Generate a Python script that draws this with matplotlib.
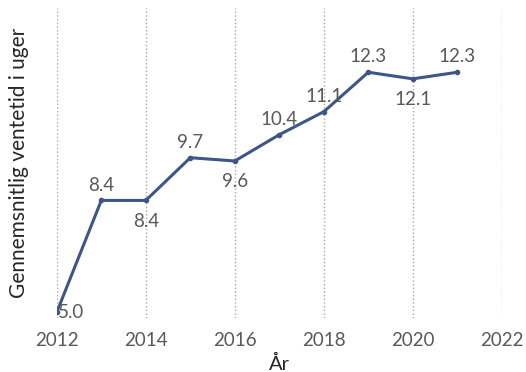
import matplotlib
matplotlib.use("Agg")
import matplotlib.pyplot as plt

# Data
years = [2012, 2013, 2014, 2015, 2016, 2017, 2018, 2019, 2020, 2021]
wait_weeks = [5.0, 8.4, 8.4, 9.7, 9.6, 10.4, 11.1, 12.3, 12.1, 12.3]
label_pos = ["on", "above", "below", "above", "below", "above", "above", "above", "below", "above"]
xticks = [2012, 2014, 2016, 2018, 2020, 2022]

plt.rcParams['font.family'] = ['Lato', 'DejaVu Sans']

fig = plt.figure(figsize=(5.26, 3.72), dpi=100)
ax = fig.add_axes([0.108, 0.145, 0.846, 0.833])

line_color = '#3d5689'
ax.plot(years, wait_weeks, color=line_color, lw=2.2, marker='o', ms=3,
        markerfacecolor=line_color, markeredgecolor=line_color, zorder=3)

# Data labels (offsets in points)
offsets = {"above": (0, 11), "below": (0, -15), "on": (10, 0)}
for x, y, pos in zip(years, wait_weeks, label_pos):
    ax.annotate(f"{y:.1f}", (x, y), xytext=offsets[pos], textcoords='offset points',
                ha='center', va='center', fontsize=13.5, color='#595959', zorder=4)

ax.set_xlim(2012, 2022)
ax.set_ylim(4.82, 14.25)
ax.set_xticks(xticks)
ax.set_yticks([])
ax.xaxis.grid(True, linestyle=':', color='#a6a6a6', lw=1)
ax.tick_params(axis='x', length=0, labelsize=13.5, labelcolor='#595959', pad=10)
for s in ax.spines.values():
    s.set_visible(False)

ax.set_xlabel("År", fontsize=14.5, color='#262626', labelpad=4)
ax.set_ylabel("Gennemsnitlig ventetid i uger", fontsize=15, color='#262626', labelpad=20)

fig.savefig("out.png", dpi=100)
